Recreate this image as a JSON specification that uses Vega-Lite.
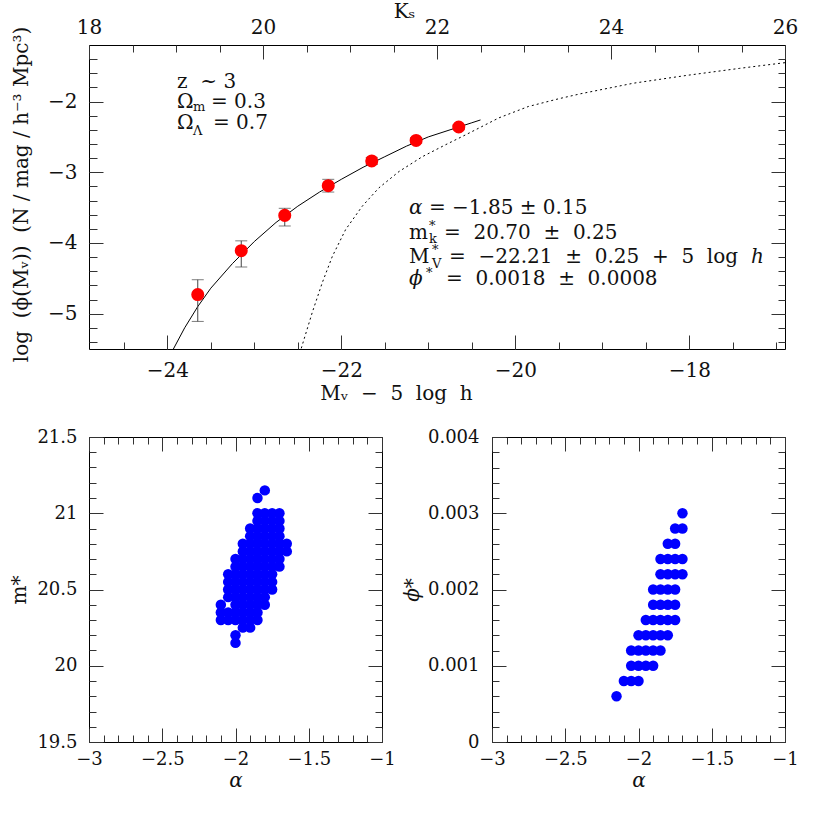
{
  "$schema": "https://vega.github.io/schema/vega-lite/v6.json",
  "background": "white",
  "padding": {"left": 8, "top": 0, "right": 5, "bottom": 5},
  "spacing": 88,
  "bounds": "flush",
  "datasets": {
    "fit": [
      {"M": -23.93, "v": -5.5}, {"M": -23.8, "v": -5.2}, {"M": -23.65, "v": -4.9}, {"M": -23.5, "v": -4.64},
      {"M": -23.25, "v": -4.29}, {"M": -23.0, "v": -3.98}, {"M": -22.75, "v": -3.71}, {"M": -22.5, "v": -3.48},
      {"M": -22.25, "v": -3.28}, {"M": -22.0, "v": -3.1}, {"M": -21.75, "v": -2.93}, {"M": -21.5, "v": -2.78},
      {"M": -21.25, "v": -2.63}, {"M": -21.0, "v": -2.5}, {"M": -20.75, "v": -2.4}, {"M": -20.5, "v": -2.3},
      {"M": -20.4, "v": -2.26}
    ],
    "ref": [
      {"M": -22.46, "v": -5.49}, {"M": -22.333, "v": -4.98}, {"M": -22.218, "v": -4.56}, {"M": -22.103, "v": -4.19},
      {"M": -21.95, "v": -3.81}, {"M": -21.759, "v": -3.48}, {"M": -21.567, "v": -3.22}, {"M": -21.337, "v": -2.99},
      {"M": -21.069, "v": -2.78}, {"M": -20.8, "v": -2.61}, {"M": -20.57, "v": -2.47}, {"M": -20.187, "v": -2.23},
      {"M": -19.85, "v": -2.07}, {"M": -19.5, "v": -1.96}, {"M": -19.25, "v": -1.89}, {"M": -18.64, "v": -1.74},
      {"M": -18.03, "v": -1.63}, {"M": -17.42, "v": -1.53}, {"M": -16.9, "v": -1.45}
    ],
    "lf": [
      {"M": -23.65, "v": -4.73, "lo": -5.11, "hi": -4.52},
      {"M": -23.15, "v": -4.11, "lo": -4.34, "hi": -3.97},
      {"M": -22.65, "v": -3.61, "lo": -3.76, "hi": -3.51},
      {"M": -22.15, "v": -3.19, "lo": -3.28, "hi": -3.1},
      {"M": -21.65, "v": -2.84, "lo": -2.89, "hi": -2.79},
      {"M": -21.14, "v": -2.55, "lo": -2.59, "hi": -2.51},
      {"M": -20.65, "v": -2.36, "lo": -2.39, "hi": -2.33}
    ],
    "ann": [
      {"x": -23.888, "y": -1.717, "t": "z\u00a0\u00a0~\u00a03", "k": "main"},
      {"x": -23.888, "y": -2.011, "t": "Ω", "k": "main"},
      {"x": -23.705, "y": -2.075, "t": "m", "k": "sub"},
      {"x": -23.498, "y": -2.011, "t": "=\u00a00.3", "k": "main"},
      {"x": -23.888, "y": -2.31, "t": "Ω", "k": "main"},
      {"x": -23.705, "y": -2.413, "t": "Λ", "k": "sub"},
      {"x": -23.475, "y": -2.31, "t": "=\u00a00.7", "k": "main"},
      {"x": -21.222, "y": -3.503, "t": "α", "k": "ital"},
      {"x": -20.992, "y": -3.503, "t": "=\u00a0−1.85\u00a0±\u00a00.15", "k": "main"},
      {"x": -21.222, "y": -3.856, "t": "m", "k": "main"},
      {"x": -20.992, "y": -3.76, "t": "*", "k": "sub"},
      {"x": -20.992, "y": -3.95, "t": "k", "k": "sub"},
      {"x": -20.82, "y": -3.856, "t": "=\u00a0\u00a020.70\u00a0\u00a0±\u00a0\u00a00.25", "k": "main"},
      {"x": -21.222, "y": -4.2, "t": "M", "k": "main"},
      {"x": -20.957, "y": -4.1, "t": "*", "k": "sub"},
      {"x": -20.957, "y": -4.3, "t": "V", "k": "sub"},
      {"x": -20.762, "y": -4.2, "t": "=\u00a0\u00a0−22.21\u00a0\u00a0±\u00a0\u00a00.25\u00a0\u00a0+\u00a0\u00a05\u00a0\u00a0log", "k": "main"},
      {"x": -17.29, "y": -4.2, "t": "h", "k": "ital"},
      {"x": -21.222, "y": -4.515, "t": "ϕ", "k": "ital"},
      {"x": -21.026, "y": -4.42, "t": "*", "k": "sub"},
      {"x": -20.797, "y": -4.515, "t": "=\u00a0\u00a00.0018\u00a0\u00a0±\u00a0\u00a00.0008", "k": "main"}
    ],
    "mpts": [
      {"a": -1.8, "m": 21.15},
      {"a": -1.85, "m": 21.1},
      {"a": -1.85, "m": 21.0}, {"a": -1.8, "m": 21.0}, {"a": -1.75, "m": 21.0}, {"a": -1.7, "m": 21.0},
      {"a": -1.85, "m": 20.95}, {"a": -1.8, "m": 20.95}, {"a": -1.75, "m": 20.95}, {"a": -1.7, "m": 20.95},
      {"a": -1.9, "m": 20.9}, {"a": -1.85, "m": 20.9}, {"a": -1.8, "m": 20.9}, {"a": -1.75, "m": 20.9}, {"a": -1.7, "m": 20.9},
      {"a": -1.9, "m": 20.85}, {"a": -1.85, "m": 20.85}, {"a": -1.8, "m": 20.85}, {"a": -1.75, "m": 20.85}, {"a": -1.7, "m": 20.85},
      {"a": -1.95, "m": 20.8}, {"a": -1.9, "m": 20.8}, {"a": -1.85, "m": 20.8}, {"a": -1.8, "m": 20.8}, {"a": -1.75, "m": 20.8}, {"a": -1.7, "m": 20.8}, {"a": -1.65, "m": 20.8},
      {"a": -1.95, "m": 20.75}, {"a": -1.9, "m": 20.75}, {"a": -1.85, "m": 20.75}, {"a": -1.8, "m": 20.75}, {"a": -1.75, "m": 20.75}, {"a": -1.7, "m": 20.75}, {"a": -1.65, "m": 20.75},
      {"a": -2.0, "m": 20.7}, {"a": -1.95, "m": 20.7}, {"a": -1.9, "m": 20.7}, {"a": -1.85, "m": 20.7}, {"a": -1.8, "m": 20.7}, {"a": -1.75, "m": 20.7}, {"a": -1.7, "m": 20.7},
      {"a": -2.0, "m": 20.65}, {"a": -1.95, "m": 20.65}, {"a": -1.9, "m": 20.65}, {"a": -1.85, "m": 20.65}, {"a": -1.8, "m": 20.65}, {"a": -1.75, "m": 20.65}, {"a": -1.7, "m": 20.65},
      {"a": -2.05, "m": 20.6}, {"a": -2.0, "m": 20.6}, {"a": -1.95, "m": 20.6}, {"a": -1.9, "m": 20.6}, {"a": -1.85, "m": 20.6}, {"a": -1.8, "m": 20.6}, {"a": -1.75, "m": 20.6},
      {"a": -2.05, "m": 20.55}, {"a": -2.0, "m": 20.55}, {"a": -1.95, "m": 20.55}, {"a": -1.9, "m": 20.55}, {"a": -1.85, "m": 20.55}, {"a": -1.8, "m": 20.55}, {"a": -1.75, "m": 20.55},
      {"a": -2.05, "m": 20.5}, {"a": -2.0, "m": 20.5}, {"a": -1.95, "m": 20.5}, {"a": -1.9, "m": 20.5}, {"a": -1.85, "m": 20.5}, {"a": -1.8, "m": 20.5}, {"a": -1.75, "m": 20.5},
      {"a": -2.05, "m": 20.45}, {"a": -2.0, "m": 20.45}, {"a": -1.95, "m": 20.45}, {"a": -1.9, "m": 20.45}, {"a": -1.85, "m": 20.45}, {"a": -1.8, "m": 20.45},
      {"a": -2.1, "m": 20.4}, {"a": -2.0, "m": 20.4}, {"a": -1.95, "m": 20.4}, {"a": -1.9, "m": 20.4}, {"a": -1.85, "m": 20.4}, {"a": -1.8, "m": 20.4},
      {"a": -2.1, "m": 20.35}, {"a": -2.05, "m": 20.35}, {"a": -2.0, "m": 20.35}, {"a": -1.95, "m": 20.35}, {"a": -1.9, "m": 20.35}, {"a": -1.85, "m": 20.35},
      {"a": -2.1, "m": 20.3}, {"a": -2.05, "m": 20.3}, {"a": -2.0, "m": 20.3}, {"a": -1.95, "m": 20.3}, {"a": -1.9, "m": 20.3}, {"a": -1.85, "m": 20.3},
      {"a": -1.95, "m": 20.25}, {"a": -1.9, "m": 20.25},
      {"a": -2.0, "m": 20.2},
      {"a": -2.0, "m": 20.15}
    ],
    "ppts": [
      {"a": -1.7, "p": 0.003},
      {"a": -1.75, "p": 0.0028}, {"a": -1.7, "p": 0.0028},
      {"a": -1.8, "p": 0.0026}, {"a": -1.75, "p": 0.0026},
      {"a": -1.85, "p": 0.0024}, {"a": -1.8, "p": 0.0024}, {"a": -1.75, "p": 0.0024}, {"a": -1.7, "p": 0.0024},
      {"a": -1.85, "p": 0.0022}, {"a": -1.8, "p": 0.0022}, {"a": -1.75, "p": 0.0022}, {"a": -1.7, "p": 0.0022},
      {"a": -1.9, "p": 0.002}, {"a": -1.85, "p": 0.002}, {"a": -1.8, "p": 0.002}, {"a": -1.75, "p": 0.002},
      {"a": -1.9, "p": 0.0018}, {"a": -1.85, "p": 0.0018}, {"a": -1.8, "p": 0.0018}, {"a": -1.75, "p": 0.0018},
      {"a": -1.95, "p": 0.0016}, {"a": -1.9, "p": 0.0016}, {"a": -1.85, "p": 0.0016}, {"a": -1.8, "p": 0.0016}, {"a": -1.75, "p": 0.0016},
      {"a": -2.0, "p": 0.0014}, {"a": -1.95, "p": 0.0014}, {"a": -1.9, "p": 0.0014}, {"a": -1.85, "p": 0.0014}, {"a": -1.8, "p": 0.0014},
      {"a": -2.05, "p": 0.0012}, {"a": -2.0, "p": 0.0012}, {"a": -1.95, "p": 0.0012}, {"a": -1.9, "p": 0.0012}, {"a": -1.85, "p": 0.0012},
      {"a": -2.05, "p": 0.001}, {"a": -2.0, "p": 0.001}, {"a": -1.95, "p": 0.001}, {"a": -1.9, "p": 0.001},
      {"a": -2.1, "p": 0.0008}, {"a": -2.05, "p": 0.0008}, {"a": -2.0, "p": 0.0008},
      {"a": -2.15, "p": 0.0006}
    ]
  },
  "vconcat": [
    {
      "width": 696,
      "height": 304,
      "resolve": {"axis": {"x": "independent", "y": "independent"}},
      "layer": [
        {
          "data": {"name": "fit"},
          "mark": {"type": "line", "color": "#000", "strokeWidth": 1, "clip": true},
          "encoding": {
            "x": {"field": "M", "type": "quantitative", "scale": {"domain": [-24.9, -16.9], "nice": false, "zero": false},
              "axis": {"orient": "bottom", "values": [-24, -22, -20, -18], "tickSize": -14, "labelPadding": 25.5, "format": "d", "labelFontSize": 20,
                "title": "Mᵥ\u00a0\u00a0−\u00a0\u00a05\u00a0\u00a0log\u00a0\u00a0h", "titleX": 307, "titleY": 44, "titleAlign": "center", "titleBaseline": "middle"}},
            "y": {"field": "v", "type": "quantitative", "scale": {"domain": [-5.5, -1.2], "nice": false, "zero": false},
              "axis": {"orient": "left", "values": [-5, -4, -3, -2], "tickSize": -14, "labelPadding": 26, "format": "d", "labelFontSize": 20,
                "title": "log\u00a0\u00a0(ϕ(Mᵥ))\u00a0\u00a0(N / mag / h⁻³ Mpc³)", "titleX": -68, "titleY": 149, "titleAlign": "center", "titleBaseline": "middle", "titleAngle": -90}}
          }
        },
        {
          "data": {"name": "ref"},
          "mark": {"type": "line", "color": "#000", "strokeWidth": 1, "strokeDash": [2, 3], "clip": true},
          "encoding": {
            "x": {"field": "M", "type": "quantitative", "scale": {"domain": [-24.9, -16.9], "nice": false, "zero": false},
              "axis": {"orient": "bottom", "values": [-24.5, -24, -23.5, -23, -22.5, -22, -21.5, -21, -20.5, -20, -19.5, -19, -18.5, -18, -17.5, -17], "tickSize": -7, "labels": false, "title": null}},
            "y": {"field": "v", "type": "quantitative", "scale": {"domain": [-5.5, -1.2], "nice": false, "zero": false},
              "axis": {"orient": "left", "values": [-5.4, -5.2, -5, -4.8, -4.6, -4.4, -4.2, -4, -3.8, -3.6, -3.4, -3.2, -3, -2.8, -2.6, -2.4, -2.2, -2, -1.8, -1.6, -1.4], "tickSize": -8, "labels": false, "title": null}}
          }
        },
        {
          "data": {"name": "lf"},
          "mark": {"type": "rule", "color": "#444", "strokeWidth": 1},
          "encoding": {
            "x": {"field": "M", "type": "quantitative", "scale": {"domain": [-24.9, -16.9], "nice": false, "zero": false},
              "axis": {"orient": "top", "values": [-24.9, -22.9, -20.9, -18.9, -16.9], "tickSize": -14, "labelPadding": 21.5, "labelFontSize": 20,
                "labelExpr": "format(datum.value + 42.9, 'd')",
                "title": "Kₛ", "titleX": 315, "titleY": -34, "titleAlign": "center", "titleBaseline": "middle"}},
            "y": {"field": "lo", "type": "quantitative", "scale": {"domain": [-5.5, -1.2], "nice": false, "zero": false},
              "axis": {"orient": "right", "values": [-5, -4, -3, -2], "tickSize": -14, "labels": false, "title": null}},
            "y2": {"field": "hi"}
          }
        },
        {
          "data": {"name": "lf"},
          "mark": {"type": "tick", "orient": "horizontal", "size": 12, "thickness": 1, "color": "#444"},
          "encoding": {
            "x": {"field": "M", "type": "quantitative", "scale": {"domain": [-24.9, -16.9], "nice": false, "zero": false},
              "axis": {"orient": "top", "values": [-24.4, -23.9, -23.4, -22.9, -22.4, -21.9, -21.4, -20.9, -20.4, -19.9, -19.4, -18.9, -18.4, -17.9, -17.4], "tickSize": -7, "labels": false, "title": null}},
            "y": {"field": "lo", "type": "quantitative", "scale": {"domain": [-5.5, -1.2], "nice": false, "zero": false},
              "axis": {"orient": "right", "values": [-5.4, -5.2, -5, -4.8, -4.6, -4.4, -4.2, -4, -3.8, -3.6, -3.4, -3.2, -3, -2.8, -2.6, -2.4, -2.2, -2, -1.8, -1.6, -1.4], "tickSize": -7, "labels": false, "title": null}}
          }
        },
        {
          "data": {"name": "lf"},
          "mark": {"type": "tick", "orient": "horizontal", "size": 12, "thickness": 1, "color": "#444"},
          "encoding": {
            "x": {"field": "M", "type": "quantitative", "axis": null},
            "y": {"field": "hi", "type": "quantitative", "axis": null}
          }
        },
        {
          "data": {"name": "lf"},
          "mark": {"type": "circle", "size": 170, "color": "#ff0000", "opacity": 1},
          "encoding": {
            "x": {"field": "M", "type": "quantitative", "axis": null},
            "y": {"field": "v", "type": "quantitative", "axis": null}
          }
        },
        {
          "data": {"name": "ann"},
          "transform": [{"filter": "datum.k == 'main'"}],
          "mark": {"type": "text", "align": "left", "baseline": "middle", "font": "DejaVu Serif", "fontSize": 20, "color": "#111"},
          "encoding": {
            "x": {"field": "x", "type": "quantitative", "axis": null},
            "y": {"field": "y", "type": "quantitative", "axis": null},
            "text": {"field": "t"}
          }
        },
        {
          "data": {"name": "ann"},
          "transform": [{"filter": "datum.k == 'ital'"}],
          "mark": {"type": "text", "align": "left", "baseline": "middle", "font": "DejaVu Serif", "fontSize": 20, "fontStyle": "italic", "color": "#111"},
          "encoding": {
            "x": {"field": "x", "type": "quantitative", "axis": null},
            "y": {"field": "y", "type": "quantitative", "axis": null},
            "text": {"field": "t"}
          }
        },
        {
          "data": {"name": "ann"},
          "transform": [{"filter": "datum.k == 'sub'"}],
          "mark": {"type": "text", "align": "left", "baseline": "middle", "font": "DejaVu Serif", "fontSize": 13, "color": "#111"},
          "encoding": {
            "x": {"field": "x", "type": "quantitative", "axis": null},
            "y": {"field": "y", "type": "quantitative", "axis": null},
            "text": {"field": "t"}
          }
        }
      ]
    },
    {
      "hconcat": [
        {
          "width": 293,
          "height": 305,
          "resolve": {"axis": {"x": "independent", "y": "independent"}},
          "layer": [
            {
              "data": {"name": "mpts"},
              "mark": {"type": "circle", "size": 110, "color": "#0000ff", "opacity": 1},
              "encoding": {
                "x": {"field": "a", "type": "quantitative", "scale": {"domain": [-3, -1], "nice": false, "zero": false},
                  "axis": {"orient": "bottom", "values": [-3, -2.5, -2, -1.5, -1], "tickSize": -14, "labelPadding": 22.5, "format": "~g", "labelFontSize": 18,
                    "title": "α", "titleFontStyle": "italic", "titleX": 146.5, "titleY": 38, "titleAlign": "center", "titleBaseline": "middle"}},
                "y": {"field": "m", "type": "quantitative", "scale": {"domain": [19.5, 21.5], "nice": false, "zero": false},
                  "axis": {"orient": "left", "values": [19.5, 20, 20.5, 21, 21.5], "tickSize": -14, "labelPadding": 26, "format": "~g", "labelFontSize": 18,
                    "title": "m*", "titleX": -70, "titleY": 152.5, "titleAlign": "center", "titleBaseline": "middle", "titleAngle": -90}}
              }
            },
            {
              "data": {"name": "mpts"},
              "mark": {"type": "circle", "size": 110, "color": "#0000ff", "opacity": 0},
              "encoding": {
                "x": {"field": "a", "type": "quantitative", "scale": {"domain": [-3, -1], "nice": false, "zero": false},
                  "axis": {"orient": "bottom", "values": [-2.9, -2.8, -2.7, -2.6, -2.4, -2.3, -2.2, -2.1, -1.9, -1.8, -1.7, -1.6, -1.4, -1.3, -1.2, -1.1], "tickSize": -7, "labels": false, "title": null}},
                "y": {"field": "m", "type": "quantitative", "scale": {"domain": [19.5, 21.5], "nice": false, "zero": false},
                  "axis": {"orient": "left", "values": [19.6, 19.7, 19.8, 19.9, 20.1, 20.2, 20.3, 20.4, 20.6, 20.7, 20.8, 20.9, 21.1, 21.2, 21.3, 21.4], "tickSize": -7, "labels": false, "title": null}}
              }
            },
            {
              "data": {"name": "mpts"},
              "mark": {"type": "circle", "size": 110, "color": "#0000ff", "opacity": 0},
              "encoding": {
                "x": {"field": "a", "type": "quantitative", "scale": {"domain": [-3, -1], "nice": false, "zero": false},
                  "axis": {"orient": "top", "values": [-3, -2.5, -2, -1.5, -1], "tickSize": -14, "labels": false, "title": null}},
                "y": {"field": "m", "type": "quantitative", "scale": {"domain": [19.5, 21.5], "nice": false, "zero": false},
                  "axis": {"orient": "right", "values": [19.5, 20, 20.5, 21, 21.5], "tickSize": -14, "labels": false, "title": null}}
              }
            },
            {
              "data": {"name": "mpts"},
              "mark": {"type": "circle", "size": 110, "color": "#0000ff", "opacity": 0},
              "encoding": {
                "x": {"field": "a", "type": "quantitative", "scale": {"domain": [-3, -1], "nice": false, "zero": false},
                  "axis": {"orient": "top", "values": [-2.9, -2.8, -2.7, -2.6, -2.4, -2.3, -2.2, -2.1, -1.9, -1.8, -1.7, -1.6, -1.4, -1.3, -1.2, -1.1], "tickSize": -7, "labels": false, "title": null}},
                "y": {"field": "m", "type": "quantitative", "scale": {"domain": [19.5, 21.5], "nice": false, "zero": false},
                  "axis": {"orient": "right", "values": [19.6, 19.7, 19.8, 19.9, 20.1, 20.2, 20.3, 20.4, 20.6, 20.7, 20.8, 20.9, 21.1, 21.2, 21.3, 21.4], "tickSize": -7, "labels": false, "title": null}}
              }
            }
          ]
        },
        {
          "width": 293,
          "height": 305,
          "resolve": {"axis": {"x": "independent", "y": "independent"}},
          "layer": [
            {
              "data": {"name": "ppts"},
              "mark": {"type": "circle", "size": 110, "color": "#0000ff", "opacity": 1},
              "encoding": {
                "x": {"field": "a", "type": "quantitative", "scale": {"domain": [-3, -1], "nice": false, "zero": false},
                  "axis": {"orient": "bottom", "values": [-3, -2.5, -2, -1.5, -1], "tickSize": -14, "labelPadding": 22.5, "format": "~g", "labelFontSize": 18,
                    "title": "α", "titleFontStyle": "italic", "titleX": 146.5, "titleY": 38, "titleAlign": "center", "titleBaseline": "middle"}},
                "y": {"field": "p", "type": "quantitative", "scale": {"domain": [0, 0.004], "nice": false, "zero": false},
                  "axis": {"orient": "left", "values": [0, 0.001, 0.002, 0.003, 0.004], "tickSize": -14, "labelPadding": 27, "format": "~g", "labelFontSize": 18,
                    "title": "ϕ*", "titleFontStyle": "italic", "titleX": -80, "titleY": 152.5, "titleAlign": "center", "titleBaseline": "middle", "titleAngle": -90}}
              }
            },
            {
              "data": {"name": "ppts"},
              "mark": {"type": "circle", "size": 110, "color": "#0000ff", "opacity": 0},
              "encoding": {
                "x": {"field": "a", "type": "quantitative", "scale": {"domain": [-3, -1], "nice": false, "zero": false},
                  "axis": {"orient": "bottom", "values": [-2.9, -2.8, -2.7, -2.6, -2.4, -2.3, -2.2, -2.1, -1.9, -1.8, -1.7, -1.6, -1.4, -1.3, -1.2, -1.1], "tickSize": -7, "labels": false, "title": null}},
                "y": {"field": "p", "type": "quantitative", "scale": {"domain": [0, 0.004], "nice": false, "zero": false},
                  "axis": {"orient": "left", "values": [0.0002, 0.0004, 0.0006, 0.0008, 0.0012, 0.0014, 0.0016, 0.0018, 0.0022, 0.0024, 0.0026, 0.0028, 0.0032, 0.0034, 0.0036, 0.0038], "tickSize": -7, "labels": false, "title": null}}
              }
            },
            {
              "data": {"name": "ppts"},
              "mark": {"type": "circle", "size": 110, "color": "#0000ff", "opacity": 0},
              "encoding": {
                "x": {"field": "a", "type": "quantitative", "scale": {"domain": [-3, -1], "nice": false, "zero": false},
                  "axis": {"orient": "top", "values": [-3, -2.5, -2, -1.5, -1], "tickSize": -14, "labels": false, "title": null}},
                "y": {"field": "p", "type": "quantitative", "scale": {"domain": [0, 0.004], "nice": false, "zero": false},
                  "axis": {"orient": "right", "values": [0, 0.001, 0.002, 0.003, 0.004], "tickSize": -14, "labels": false, "title": null}}
              }
            },
            {
              "data": {"name": "ppts"},
              "mark": {"type": "circle", "size": 110, "color": "#0000ff", "opacity": 0},
              "encoding": {
                "x": {"field": "a", "type": "quantitative", "scale": {"domain": [-3, -1], "nice": false, "zero": false},
                  "axis": {"orient": "top", "values": [-2.9, -2.8, -2.7, -2.6, -2.4, -2.3, -2.2, -2.1, -1.9, -1.8, -1.7, -1.6, -1.4, -1.3, -1.2, -1.1], "tickSize": -7, "labels": false, "title": null}},
                "y": {"field": "p", "type": "quantitative", "scale": {"domain": [0, 0.004], "nice": false, "zero": false},
                  "axis": {"orient": "right", "values": [0.0002, 0.0004, 0.0006, 0.0008, 0.0012, 0.0014, 0.0016, 0.0018, 0.0022, 0.0024, 0.0026, 0.0028, 0.0032, 0.0034, 0.0036, 0.0038], "tickSize": -7, "labels": false, "title": null}}
              }
            }
          ]
        }
      ],
      "spacing": 110,
      "bounds": "flush"
    }
  ],
  "config": {
    "view": {"stroke": "#000", "strokeWidth": 1},
    "axis": {
      "grid": false, "domain": false, "tickColor": "#333", "tickWidth": 1,
      "labelFont": "DejaVu Serif", "labelFontSize": 19, "labelColor": "#111",
      "titleFont": "DejaVu Serif", "titleFontSize": 20, "titleFontWeight": "normal", "titleColor": "#111",
      "labelFlush": false, "labelOverlap": false, "labelBound": false
    }
  }
}
